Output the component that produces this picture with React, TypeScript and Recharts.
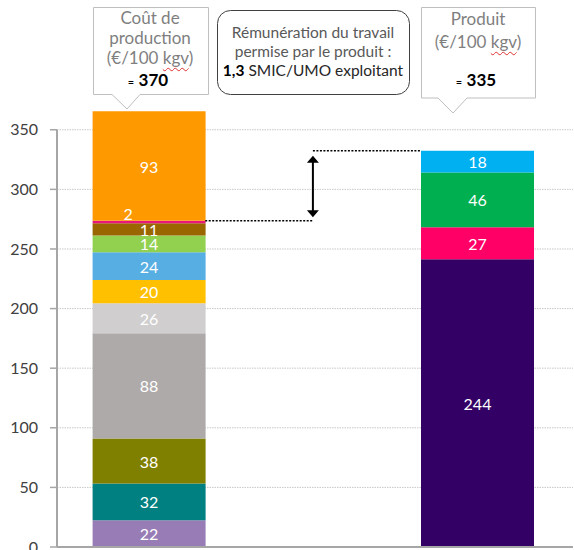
import React from 'react';
import {
  BarChart,
  Bar,
  XAxis,
  YAxis,
  CartesianGrid,
  ReferenceLine,
  LabelList,
} from 'recharts';

// ---------- data ----------
const categories = ['Coût de production', 'Rémunération', 'Produit'];

// cost components, bottom to top
const costValues = [22.4, 30.8, 37.8, 88.2, 25.2, 19.6, 23.3, 13.9, 10.4, 2.0, 92.0];
const costLabels = ['22', '32', '38', '88', '26', '20', '24', '14', '11', '2', '93'];
const costColors = [
  '#977CB5', '#008080', '#808000', '#AEAAAA', '#D0CECE', '#FFC000',
  '#56AEE2', '#92D050', '#996600', '#E8157B', '#FF9900',
];

// product components, bottom to top
const productValues = [241.4, 26.9, 45.8, 18.3];
const productLabels = ['244', '27', '46', '18'];
const productColors = ['#330066', '#FF0066', '#00B050', '#00B0F0'];

const yTicks = [0, 50, 100, 150, 200, 250, 300, 350];
const yMax = 380;

const costTotalText = '370';
const productTotalText = '335';

// ---------- derived ----------
const costKeys = costValues.map((_, i) => `c${i}`);
const productKeys = productValues.map((_, i) => `p${i}`);

const data = categories.map((name, ci) => {
  const row: Record<string, any> = { name };
  if (ci === 0) costValues.forEach((v, i) => (row[costKeys[i]] = v));
  if (ci === 2) productValues.forEach((v, i) => (row[productKeys[i]] = v));
  return row;
});

const sum = (a: number[]) => a.reduce((s, v) => s + v, 0);
const costBelowTop = sum(costValues.slice(0, -1));
const productTotal = sum(productValues);

const FONT = 'Lato, "Open Sans", sans-serif';
const BAR_SIZE = 113;
const GRAY_AXIS = '#a6a6a6';

const segLabel = (text: string) => (props: any) => {
  const { x, y, width, height, value } = props;
  if (value == null) return null;
  return (
    <text
      x={Number(x) + Number(width) / 2}
      y={Number(y) + Number(height) / 2}
      textAnchor="middle"
      dominantBaseline="central"
      fill="#fff"
      fontSize={16}
      fontFamily={FONT}
    >
      {text}
    </text>
  );
};

// label for the thin "2" segment, drawn from the segment above it (so it is not covered)
const thinLabel = (text: string) => (props: any) => {
  const { x, y, width, height, value } = props;
  if (value == null) return null;
  return (
    <text
      x={Number(x) + Number(width) / 2 - 21}
      y={Number(y) + Number(height) - 7}
      textAnchor="middle"
      dominantBaseline="central"
      fill="#fff"
      fontSize={16}
      fontFamily={FONT}
    >
      {text}
    </text>
  );
};

const LowerDotted = (p: any) => (
  <line
    x1={p.x1 + BAR_SIZE / 2}
    y1={p.y1}
    x2={p.x2}
    y2={p.y2}
    stroke="#000"
    strokeWidth={1.5}
    strokeDasharray="2 1.5"
  />
);
const UpperDotted = (p: any) => (
  <line
    x1={p.x1}
    y1={p.y1}
    x2={p.x2 - BAR_SIZE / 2}
    y2={p.y2}
    stroke="#000"
    strokeWidth={1.5}
    strokeDasharray="2 1.5"
  />
);

const DoubleArrow = (p: any) => {
  const x = p.x1;
  const top = Math.min(p.y1, p.y2) + 5;
  const bottom = Math.max(p.y1, p.y2) - 3.5;
  return (
    <g>
      <line x1={x} y1={top + 5} x2={x} y2={bottom - 5} stroke="#000" strokeWidth={2} />
      <path d={`M${x},${top} L${x - 6},${top + 7} L${x + 6},${top + 7} Z`} fill="#000" />
      <path d={`M${x},${bottom} L${x - 6},${bottom - 7} L${x + 6},${bottom - 7} Z`} fill="#000" />
    </g>
  );
};

const AxisLine = (p: any) => (
  <line x1={p.x1} y1={p.y1} x2={p.x2} y2={p.y2} stroke={GRAY_AXIS} strokeWidth={2} />
);

const TextLine = ({
  cx,
  baseline,
  size,
  children,
  style,
}: {
  cx: number;
  baseline: number;
  size: number;
  children: React.ReactNode;
  style?: React.CSSProperties;
}) => (
  <div
    style={{
      position: 'absolute',
      left: cx - 150,
      width: 300,
      top: baseline - 0.987 * size,
      fontSize: size,
      lineHeight: `${1.2 * size}px`,
      textAlign: 'center',
      fontFamily: FONT,
      whiteSpace: 'nowrap',
      ...style,
    }}
  >
    {children}
  </div>
);

const wavy: React.CSSProperties = {
  textDecoration: 'underline wavy #e03030',
  textDecorationThickness: '1px',
  textUnderlineOffset: '3px',
};

const Callouts = () => (
  <>
    <svg width={574} height={120} style={{ position: 'absolute', left: 0, top: 0 }}>
      <path
        d="M93.5,7.5 H208.5 V94.5 H140 L127,109 L112,94.5 H93.5 Z"
        fill="#fff"
        stroke="#bfbfbf"
      />
      <rect x={217.5} y={10.5} width={192} height={84} rx={13} fill="#fff" stroke="#404040" />
      <path
        d="M421.5,7.5 H535.5 V98 H467 L453,113 L438,98 H421.5 Z"
        fill="#fff"
        stroke="#bfbfbf"
      />
    </svg>
    {/* left callout */}
    <TextLine cx={150} baseline={25} size={17} style={{ color: '#7f7f7f' }}>Coût de</TextLine>
    <TextLine cx={150} baseline={45} size={17} style={{ color: '#7f7f7f' }}>production</TextLine>
    <TextLine cx={150} baseline={65} size={17} style={{ color: '#7f7f7f' }}>
      (€/100 <span style={wavy}>kgv</span>)
    </TextLine>
    <TextLine cx={148} baseline={87} size={17} style={{ color: '#000' }}>
      <span style={{ fontSize: 11 }}>=</span> <b>{costTotalText}</b>
    </TextLine>
    {/* middle box */}
    <TextLine cx={313} baseline={38} size={15.5} style={{ color: '#595959' }}>
      Rémunération du travail
    </TextLine>
    <TextLine cx={313} baseline={57} size={15.5} style={{ color: '#595959' }}>
      permise par le produit :
    </TextLine>
    <TextLine cx={313} baseline={76} size={15.5} style={{ color: '#262626' }}>
      <b style={{ color: '#000' }}>1,3</b> SMIC/UMO exploitant
    </TextLine>
    {/* right callout */}
    <TextLine cx={478} baseline={26} size={17} style={{ color: '#7f7f7f' }}>Produit</TextLine>
    <TextLine cx={478} baseline={49} size={17} style={{ color: '#7f7f7f' }}>
      (€/100 <span style={wavy}>kgv</span>)
    </TextLine>
    <TextLine cx={476} baseline={87} size={17} style={{ color: '#000' }}>
      <span style={{ fontSize: 11 }}>=</span> <b>{productTotalText}</b>
    </TextLine>
  </>
);

export default function App() {
  return (
    <div
      style={{
        position: 'absolute',
        left: 0,
        top: 0,
        width: 574,
        height: 550,
        background: '#fff',
        fontFamily: FONT,
      }}
    >
      <BarChart
        width={574}
        height={550}
        data={data}
        margin={{ top: 94, right: 1, bottom: 0, left: 0 }}
        barSize={BAR_SIZE}
      >
        <CartesianGrid
          vertical={false}
          horizontalValues={yTicks}
          stroke="#c8c8c8"
          strokeDasharray="1.5 1"
        />
        <XAxis
          dataKey="name"
          type="category"
          height={3}
          tick={false}
          tickLine={false}
          padding={{ left: 9.6, right: 13.8 }}
          axisLine={{ stroke: GRAY_AXIS, strokeWidth: 2 }}
        />
        <XAxis
          xAxisId="num"
          type="number"
          domain={[0, 1]}
          allowDataOverflow
          hide
        />
        <YAxis
          width={57}
          domain={[0, yMax]}
          ticks={yTicks}
          interval={0}
          axisLine={false}
          tickSize={7}
          tickMargin={12}
          tickLine={{ stroke: GRAY_AXIS, strokeWidth: 1.5 }}
          tick={{ fill: '#404040', fontSize: 16, fontFamily: FONT }}
        />
        <ReferenceLine
          xAxisId="num"
          segment={[{ x: 0, y: 0 }, { x: 0, y: yTicks[yTicks.length - 1] }]}
          shape={AxisLine}
        />
        <ReferenceLine
          segment={[{ x: categories[0], y: costBelowTop }, { x: categories[1], y: costBelowTop }]}
          shape={LowerDotted}
        />
        <ReferenceLine
          segment={[{ x: categories[1], y: productTotal }, { x: categories[2], y: productTotal }]}
          shape={UpperDotted}
        />
        <ReferenceLine
          segment={[{ x: categories[1], y: costBelowTop }, { x: categories[1], y: productTotal }]}
          shape={DoubleArrow}
        />
        {costKeys.map((k, i) => (
          <Bar key={k} dataKey={k} stackId="s" fill={costColors[i]} isAnimationActive={false}>
            {i !== costKeys.length - 2 && (
              <LabelList dataKey={k} content={segLabel(costLabels[i])} />
            )}
            {i === costKeys.length - 1 && (
              <LabelList
                dataKey={costKeys[costKeys.length - 2]}
                content={thinLabel(costLabels[costLabels.length - 2])}
              />
            )}
          </Bar>
        ))}
        {productKeys.map((k, i) => (
          <Bar key={k} dataKey={k} stackId="s" fill={productColors[i]} isAnimationActive={false}>
            <LabelList dataKey={k} content={segLabel(productLabels[i])} />
          </Bar>
        ))}
      </BarChart>
      <Callouts />
    </div>
  );
}
